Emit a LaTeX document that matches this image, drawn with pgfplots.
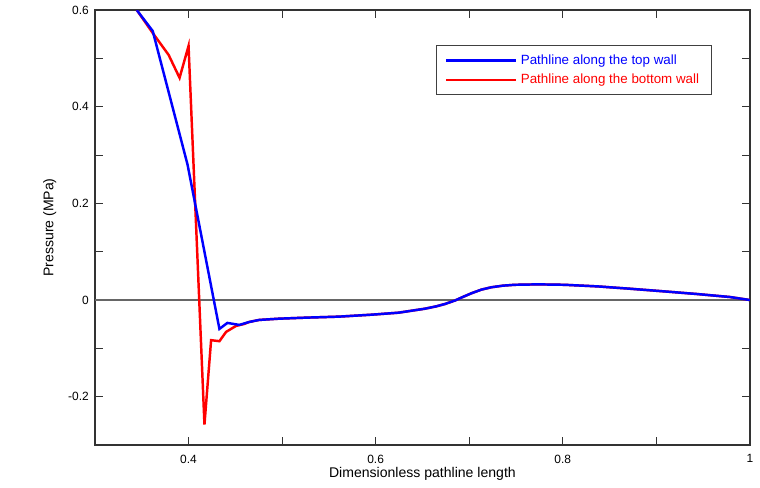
\documentclass[border=0pt]{standalone}
\usepackage{fontspec}
\setmainfont{Liberation Sans}
\newfontfamily\serifbold{Liberation Serif}
\usepackage{pgfplots}
\pgfplotsset{compat=1.18}

\begin{document}
\begin{tikzpicture}[x=0.02cm,y=0.02cm]
% page frame: 760 x 485 px, axis box 655 x 435 px
\path (-95,-43) rectangle (665,442);
\begin{axis}[
    at={(0,0)}, anchor=south west,
    scale only axis,
    width=13.1cm, height=8.7cm,
    xmin=0.3, xmax=1,
    ymin=-0.3, ymax=0.6,
    xtick={0.4,0.6,0.8,1},
    xticklabels={0.4,0.6,0.8,1},
    minor xtick={0.3,0.5,0.7,0.9},
    ytick={-0.2,0,0.2,0.4,0.6},
    yticklabels={-0.2,0,0.2,0.4,0.6},
    minor ytick={-0.3,-0.1,0.1,0.3,0.5},
    tick align=inside,
    ticks=both,
    major tick length=0.16cm,
    minor tick length=0.16cm,
    tick style={black!80, line width=0.6pt},
    axis line style={black!80, line width=0.8pt},
    ticklabel style={font=\fontsize{6.8}{8}\selectfont},
    xticklabel style={yshift=-2pt},
    xlabel={Dimensionless pathline length},
    ylabel={Pressure (MPa)},
    label style={font=\fontsize{8}{10}\selectfont},
    xlabel style={at={(axis description cs:0.5,-0.067)}, anchor=center},
    ylabel style={at={(axis description cs:-0.069,0.5)}, anchor=center},
    legend style={at={(axis description cs:0.942,0.9195)}, anchor=north east,
        draw=black!75, line width=0.6pt, font=\fontsize{7.6}{9}\selectfont,
        inner xsep=5pt, inner ysep=3pt, row sep=0pt},
    legend cell align=left,
    legend image code/.code={\draw[#1] (0cm,0cm) -- (1.4cm,0cm);},
    clip=true,
]

% zero line
\addplot[black!60, line width=0.7pt, forget plot] coordinates {(0.3,0) (1,0)};

\addlegendimage{blue, line width=1.4pt}
\addlegendentry[text=blue]{Pathline along the top wall}
\addlegendimage{red, line width=1.4pt}
\addlegendentry[text=red]{Pathline along the bottom wall}

% bottom wall
\addplot[red, line width=1.4pt, forget plot] coordinates {
    (0.3447, 0.6000)
    (0.3617, 0.5526)
    (0.3787, 0.5072)
    (0.3904, 0.4598)
    (0.4000, 0.5258)
    (0.4170, -0.2577)
    (0.4241, -0.0831)
    (0.4330, -0.0852)
    (0.4401, -0.0660)
    (0.4507, -0.0536)
    (0.4596, -0.0495)
    (0.4649, -0.0454)
    (0.4755, -0.0412)
    (0.4968, -0.0386)
    (0.5252, -0.0365)
    (0.5606, -0.0344)
    (0.5961, -0.0303)
    (0.6245, -0.0262)
    (0.6529, -0.0179)
    (0.6650, -0.0130)
    (0.6741, -0.0082)
    (0.6848, -0.0010)
    (0.6940, 0.0070)
    (0.7024, 0.0140)
    (0.7130, 0.0215)
    (0.7237, 0.0264)
    (0.7360, 0.0297)
    (0.7486, 0.0315)
    (0.7734, 0.0324)
    (0.8018, 0.0315)
    (0.8372, 0.0282)
    (0.8723, 0.0233)
    (0.9082, 0.0179)
    (0.9436, 0.0124)
    (0.9787, 0.0062)
    (1.0000, 0.0000)
};

% top wall
\addplot[blue, line width=1.4pt, forget plot] coordinates {
    (0.3447, 0.6000)
    (0.3617, 0.5567)
    (0.3989, 0.2804)
    (0.4330, -0.0598)
    (0.4415, -0.0474)
    (0.4543, -0.0515)
    (0.4649, -0.0454)
    (0.4755, -0.0412)
    (0.4968, -0.0386)
    (0.5252, -0.0365)
    (0.5606, -0.0344)
    (0.5961, -0.0303)
    (0.6245, -0.0262)
    (0.6529, -0.0179)
    (0.6650, -0.0130)
    (0.6741, -0.0082)
    (0.6848, -0.0010)
    (0.6940, 0.0070)
    (0.7024, 0.0140)
    (0.7130, 0.0215)
    (0.7237, 0.0264)
    (0.7360, 0.0297)
    (0.7486, 0.0315)
    (0.7734, 0.0324)
    (0.8018, 0.0315)
    (0.8372, 0.0282)
    (0.8723, 0.0233)
    (0.9082, 0.0179)
    (0.9436, 0.0124)
    (0.9787, 0.0062)
    (1.0000, 0.0000)
};

\node[font=\serifbold\bfseries\fontsize{11.5}{13}\selectfont]
    at (axis description cs:-0.0992,0.984) {9a)};
\end{axis}
\end{tikzpicture}
\end{document}
